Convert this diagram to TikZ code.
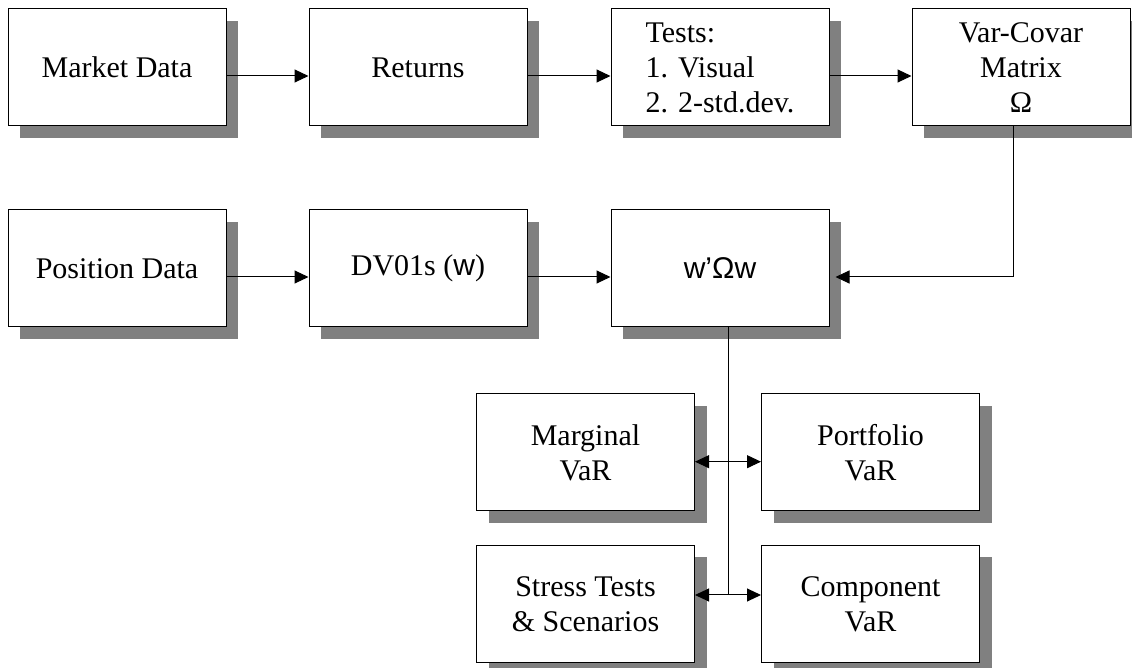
\documentclass[tikz,border=0pt]{standalone}
\usepackage{fontspec}
\setmainfont{Liberation Serif}
\newfontfamily\sansw{Liberation Sans}
\usepackage{xcolor}
\usepackage{tikz}
\usetikzlibrary{shapes,arrows.meta,positioning,calc,shadows}

\begin{document}
\begin{tikzpicture}[
    x=0.5pt, y=-0.5pt,
    block/.style={rectangle, draw, fill=white, line width=0.5pt, minimum width=109pt, minimum height=58.5pt, inner sep=0pt, align=center, font=\fontsize{15pt}{17.5pt}\selectfont, drop shadow={shadow xshift=6pt, shadow yshift=-6pt, fill=gray, opacity=1}},
    link/.style={line width=0.5pt, -{Triangle[length=7pt,width=6.5pt]}},
    both/.style={line width=0.5pt, {Triangle[length=7pt,width=6.5pt]}-{Triangle[length=7pt,width=6.5pt]}}
]
    \useasboundingbox (0,0) rectangle (1132,668);

    % first row
    \node[block] (market) at (117,67.5) {Market Data};
    \node[block] (returns) at (418,67.5) {Returns};
    \node[block, align=left] (tests) at (720,67.5) {Tests:\\1. Visual\\2. 2-std.dev.};
    \node[block] (varcov) at (1021,67.5) {Var-Covar\\Matrix\\Ω};

    % second row
    \node[block] (position) at (117,268.5) {Position Data};
    \node[block] (dv01) at (418,268.5) {DV01s ({\sansw w})};
    \node[block] (wqw) at (720,268.5) {{\sansw w’Ωw}};

    % outputs
    \node[block] (marginal) at (585.5,452.5) {Marginal\\VaR};
    \node[block] (portfolio) at (870.5,452.5) {Portfolio\\VaR};
    \node[block] (stress) at (585.5,604) {Stress Tests\\\& Scenarios};
    \node[block] (component) at (870.5,604) {Component\\VaR};

    \coordinate (hub) at (728,595);

    \draw[link] ([yshift=-4.25pt]market.east) -- ([yshift=-4.25pt]returns.west);
    \draw[link] ([yshift=-4.25pt]returns.east) -- ([yshift=-4.25pt]tests.west);
    \draw[link] ([yshift=-4.25pt]tests.east) -- ([yshift=-4.25pt]varcov.west);
    \draw[link] ([yshift=-4.25pt]position.east) -- ([yshift=-4.25pt]dv01.west);
    \draw[link] ([yshift=-4.25pt]dv01.east) -- ([yshift=-4.25pt]wqw.west);
    \draw[link] ([xshift=-4pt]varcov.south) |- ([xshift=3pt,yshift=-4.25pt]wqw.east);

    \draw[line width=0.5pt] (wqw.south -| hub) -- (hub);
    \draw[both] ([yshift=-4.6pt]marginal.east) -- ([yshift=-4.6pt]portfolio.west);
    \draw[both] ([yshift=4.5pt]stress.east) -- ([yshift=4.5pt]component.west);
\end{tikzpicture}
\end{document}
